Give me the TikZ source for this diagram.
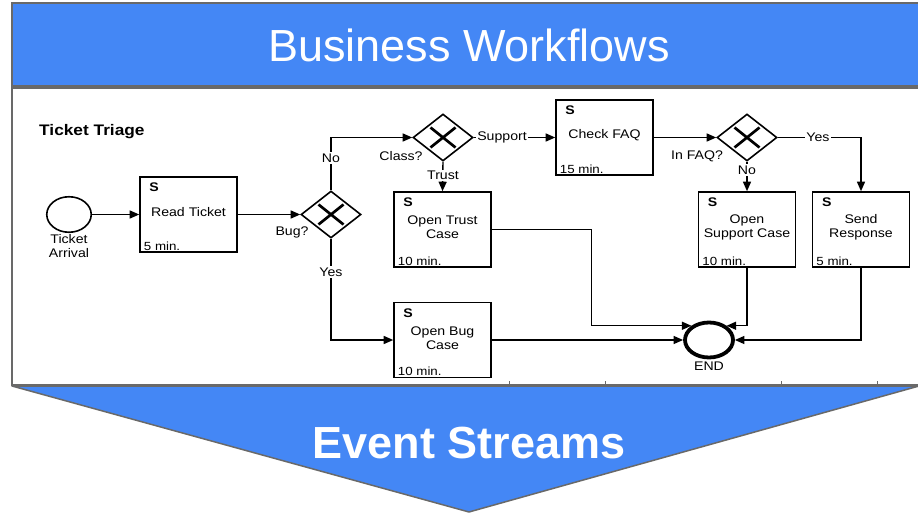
\documentclass[tikz,border=0pt]{standalone}
\usepackage{fontspec}
\setmainfont{Liberation Sans}
\newfontfamily\diagfont[FakeStretch=1.13]{Liberation Sans}
\usetikzlibrary{shapes.geometric,arrows.meta,calc}
\definecolor{slideblue}{RGB}{68,135,245}
\definecolor{framegray}{RGB}{105,105,105}

% task box: name, x, y, title, duration
\newcommand\taskbox[5]{%
  \node[task] (#1) at (#2,#3) {};
  \node[txt, font=\diagfont\fontsize{12.5}{14}\bfseries\selectfont] (#1-s) at ([xshift=15pt,yshift=-11pt]#1.north west) {S};
  \node[txt] (#1-t) at ([yshift=2pt]#1.center) {#4};
  \node[txt, anchor=west, font=\diagfont\fontsize{11.8}{13}\selectfont] (#1-m) at ([xshift=3.5pt,yshift=7pt]#1.south west) {#5};
}

\begin{document}
\begin{tikzpicture}[x=1pt,y=-1pt,
  flow/.style={line width=1.4pt, -{Triangle[length=9.5pt,width=8pt]}},
  task/.style={draw, line width=1.6pt, minimum width=97pt, minimum height=75pt, inner sep=0pt},
  gate/.style={draw, diamond, line width=1.6pt, minimum width=60pt, minimum height=47pt, inner sep=0pt,
    path picture={\draw[line width=2.7pt]
      ([shift={(-12.5pt,-10pt)}]path picture bounding box.center) -- ([shift={(12.5pt,10pt)}]path picture bounding box.center)
      ([shift={(-12.5pt,10pt)}]path picture bounding box.center) -- ([shift={(12.5pt,-10pt)}]path picture bounding box.center);}},
  txt/.style={font=\diagfont\fontsize{12.5}{14}\selectfont, align=center, inner sep=1pt},
  lbl/.style={txt, fill=white, inner sep=1.5pt},
]
\useasboundingbox (0,0) rectangle (918,513);
\clip (0,0) rectangle (918,513);

% slide banner, picture frame and the arrow below
\draw[fill=slideblue, draw=framegray, line width=2pt] (12,3) rectangle (930,86);
\node[text=white, font=\fontsize{45}{54}\selectfont] (title) at (469,45) {Business Workflows};
\draw[fill=white, draw=framegray, line width=1.5pt] (12,88) rectangle (930,385);
\draw[fill=slideblue, draw=framegray, line width=1.5pt, line join=round] (12,386) -- (919,386) -- (469,512) -- cycle;
\node[text=white, font=\fontsize{45}{54}\bfseries\selectfont] (streams) at (469,443) {Event Streams};
\draw[framegray, line width=1pt] (509,381) -- (509,385) (605,381) -- (605,385) (781,381) -- (781,385) (877,381) -- (877,385);

% process diagram
\node[anchor=west, font=\diagfont\fontsize{15.3}{17}\bfseries\selectfont, inner sep=0pt] (heading) at (39,132) {Ticket Triage};

\node[draw, ellipse, line width=1.6pt, minimum width=44.5pt, minimum height=35.5pt, inner sep=0pt] (start) at (69,214.5) {};
\node[txt] (start-l) at (69,246.5) {Ticket\\Arrival};

\taskbox{read}{188.5}{214.5}{Read Ticket}{5 min.}
\taskbox{trust}{442.5}{229.5}{Open Trust\\Case}{10 min.}
\taskbox{faq}{604.5}{137.5}{Check FAQ}{15 min.}
\taskbox{support}{747}{229.5}{Open\\Support Case}{10 min.}
\taskbox{send}{861}{229.5}{Send\\Response}{5 min.}
\taskbox{bug}{442.5}{340}{Open Bug\\Case}{10 min.}

\node[gate] (d1) at (331,214.5) {};
\node[gate] (class) at (443,137.5) {};
\node[gate] (infaq) at (747,137.5) {};

\node[draw, ellipse, line width=3.8pt, minimum width=48pt, minimum height=35pt, inner sep=0pt] (end) at (709,340) {};
\node[txt] (end-l) at (709,366) {END};

% sequence flows
\draw[flow] (start) -- (read);
\draw[flow] (read) -- (d1);
\draw[flow] (d1.north) |- (class.west);
\draw[flow] (d1.south) |- (bug.west);
\draw[flow] (class.east) -- (faq.west);
\draw[flow] (class.south) -- (trust.north);
\draw[flow] (faq.east) -- (infaq.west);
\draw[flow] (infaq.south) -- (support.north);
\draw[flow] (infaq.east) -| (send.north);
\draw[flow] (trust.east) -| ([xshift=-100pt]end.141) -- (end.141);
\draw[flow] (support.south) |- (end.39);
\draw[flow] (send.south) |- (end.east);
\draw[flow] (bug.east) -- (end.west);

% gateway and flow labels
\node[txt] (d1-l) at (292,232) {Bug?};
\node[txt] (class-l) at (401,156) {Class?};
\node[txt] (infaq-l) at (697,156) {In FAQ?};
\node[lbl] (no1) at (331,158) {No};
\node[lbl] (yes1) at (331,272) {Yes};
\node[lbl] (sup) at (502,137.5) {Support};
\node[lbl] (tr) at (443,175.5) {Trust};
\node[lbl] (no2) at (747,170) {No};
\node[lbl] (yes2) at (818,137.5) {Yes};
\end{tikzpicture}
\end{document}
